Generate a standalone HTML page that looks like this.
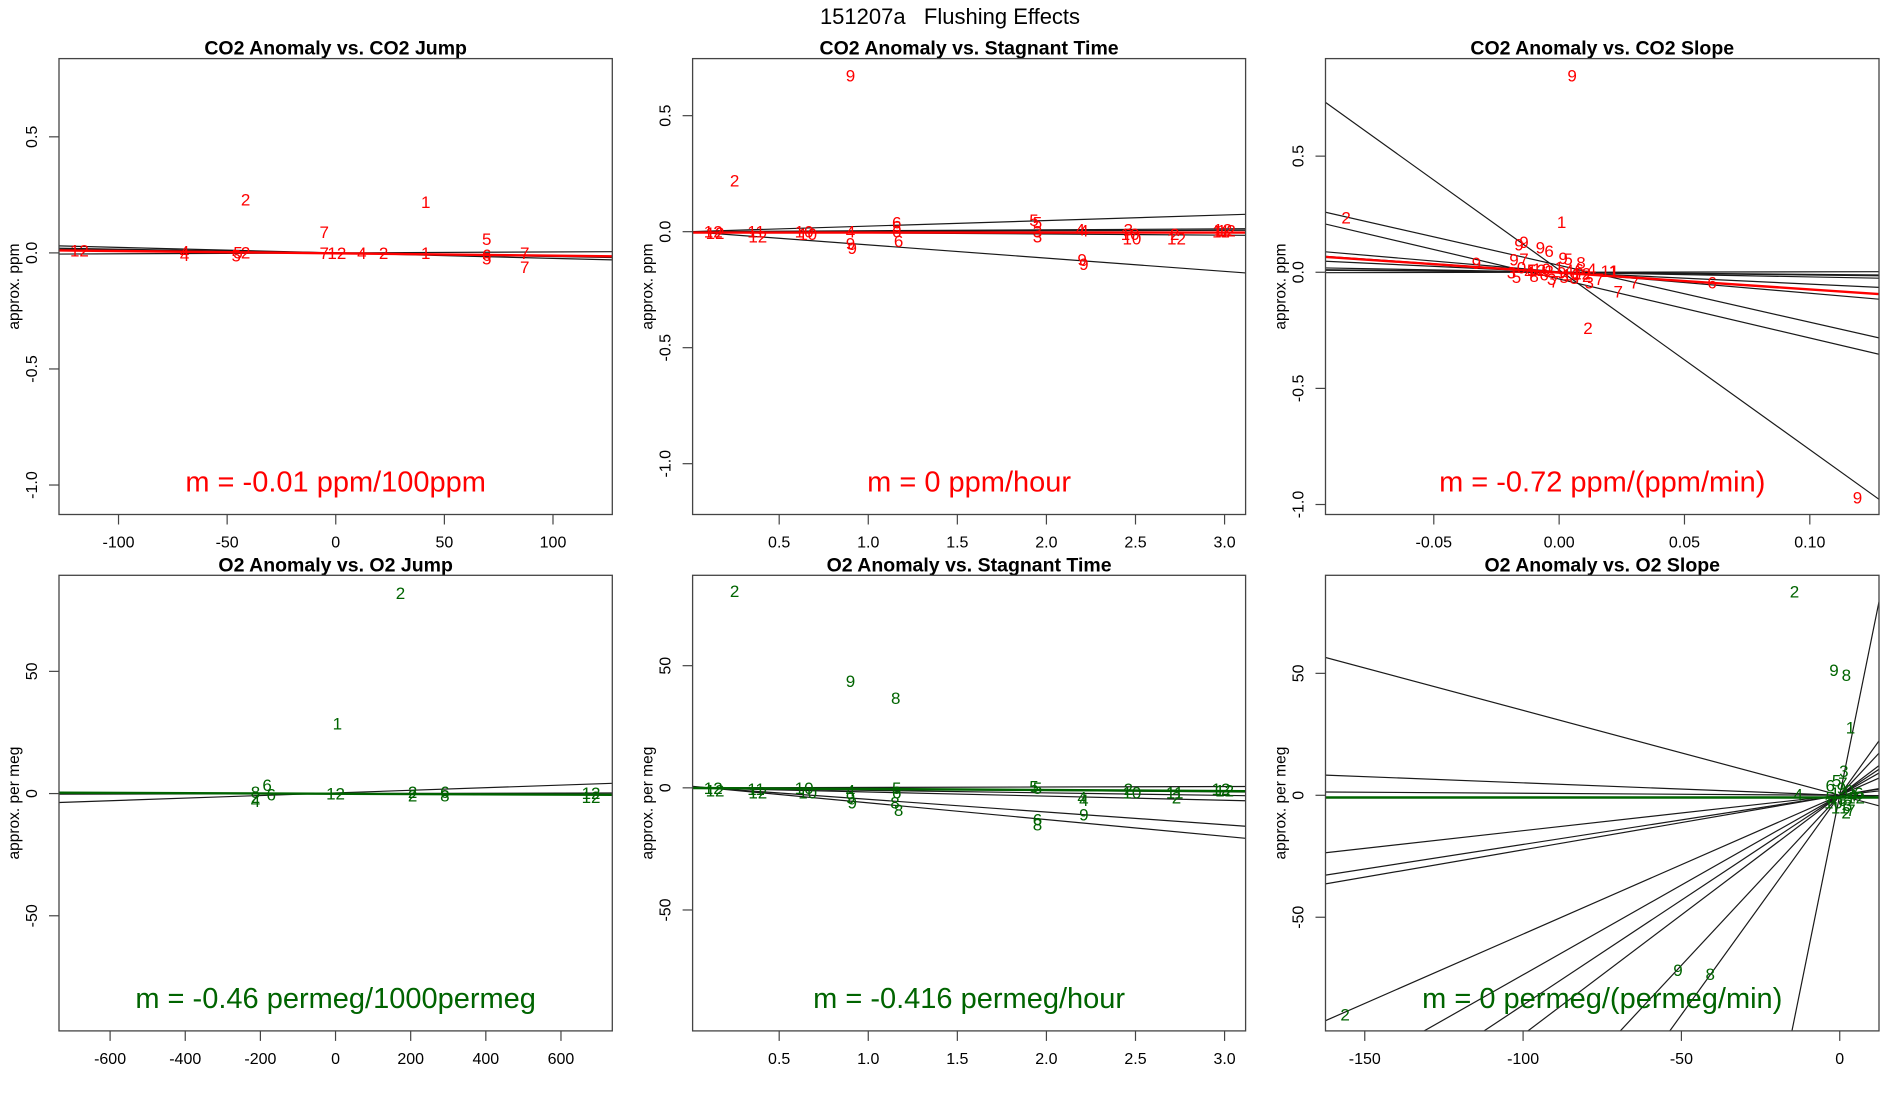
<!DOCTYPE html>
<html><head><meta charset="utf-8"><title>151207a Flushing Effects</title>
<style>
html,body{margin:0;padding:0;background:#fff;overflow:hidden;width:1900px;height:1100px;}
svg{display:block;font-family:"Liberation Sans",Arial,sans-serif;}
</style></head>
<body>
<svg id="fig" width="1900" height="1100" viewBox="0 0 1900 1100">
<text x="950" y="24" font-size="22" text-anchor="middle" style="white-space:pre" xml:space="preserve">151207a   Flushing Effects</text>
</svg>
<script>
// ---------- Panel 1: CO2 Anomaly vs CO2 Jump ----------
const p1Labels = ["12","4","4","5","2","5","2","7","7","12","4","2","1","1","5","6","5","7","7"];
const p1X = [-118,-69.6,-69.6,-45,-41.5,-45.8,-41.5,-5.3,-5.3,0.5,12,22,41.4,41.4,69.5,69.5,69.5,87,87];
const p1Y = [0.01,0.005,-0.01,0.002,0.002,-0.012,0.23,0.09,0,0,0,0,0.22,0,0.06,-0.01,-0.025,0,-0.06];
const p1LineSlope = [-0.000236,-0.000157,0.00004,-0.000118];
const p1LineInt = [0,0,0,0];
const p1FitSlope = -0.0001;
const p1FitInt = -0.002;
const p1XTicks = [-100,-50,0,50,100];
const p1XTickLabels = ["-100","-50","0","50","100"];
const p1YTicks = [0.5,0,-0.5,-1.0];
const p1YTickLabels = ["0.5","0.0","-0.5","-1.0"];

// ---------- Panel 2: CO2 Anomaly vs Stagnant Time ----------
const p2Labels = ["9","2","12","12","11","12","10","10","4","9","9","6","5","6","6","5","5","3","3","4","4","9","9","3","10","10","2","12","11","12","12"];
const p2X = [0.90,0.25,0.13,0.14,0.37,0.38,0.64,0.66,0.90,0.90,0.91,1.16,1.16,1.16,1.17,1.93,1.95,1.95,1.95,2.19,2.21,2.2,2.21,2.46,2.47,2.48,2.72,2.73,2.98,2.99,3.01];
const p2Y = [0.673,0.22,0,-0.005,0,-0.02,0,-0.01,0,-0.05,-0.07,0.04,0.02,0.0,-0.04,0.05,0.04,0.0,-0.02,0.01,0.005,-0.12,-0.14,0.01,-0.01,-0.03,-0.01,-0.03,0.0,0.01,0.005];
const p2LineSlope = [0.024,-0.057,0.004,-0.005,0.002];
const p2LineInt = [0,0,0,0,0];
const p2FitSlope = 0;
const p2FitInt = -0.004;
const p2XTicks = [0.5,1.0,1.5,2.0,2.5,3.0];
const p2XTickLabels = ["0.5","1.0","1.5","2.0","2.5","3.0"];
const p2YTicks = [0.5,0,-0.5,-1.0];
const p2YTickLabels = ["0.5","0.0","-0.5","-1.0"];

// ---------- Panel 3: CO2 Anomaly vs CO2 Slope ----------
const p3Labels = ["9","2","1","9","9","9","6","9","5","8","9","9","7","2","9","6","7","7","11","1","3","5","0","4","8","12","10","6","2","3","7","1","9","5","4","10","8","6","12","2","3","7","4","1","5"];
const p3X = [0.0052,-0.085,0.001,-0.016,-0.014,-0.0075,-0.004,0.0016,0.0036,0.0087,-0.033,-0.018,-0.014,0.0115,0.119,0.061,0.030,0.0236,0.02,0.022,-0.019,-0.017,-0.015,-0.012,-0.010,-0.009,-0.007,-0.006,-0.004,-0.003,-0.002,0.0,0.001,0.002,0.004,0.005,0.006,0.008,0.009,0.011,0.012,0.016,0.013,0.007,-0.011];
const p3Y = [0.847,0.236,0.217,0.12,0.13,0.107,0.092,0.062,0.057,0.042,0.039,0.054,0.057,-0.24,-0.97,-0.044,-0.044,-0.082,0.006,0.006,0.0,-0.02,0.02,0.0,-0.015,0.01,0.015,-0.01,0.005,-0.03,-0.04,0.02,0.0,-0.02,0.01,-0.01,-0.025,0.012,-0.005,-0.015,-0.045,-0.03,0.015,-0.005,0.01];
const p3LineSlope = [-7.74,-2.45,-2.54,-0.924,-0.738,-0.51,-0.2,-0.12,0.02,-0.09];
const p3LineInt = [0.01,0.03,-0.029,0.002,0,0,0,0,0,0];
const p3FitSlope = -0.725;
const p3FitInt = -0.0015;
const p3XTicks = [-0.05,0,0.05,0.10];
const p3XTickLabels = ["-0.05","0.00","0.05","0.10"];
const p3YTicks = [0.5,0,-0.5,-1.0];
const p3YTickLabels = ["0.5","0.0","-0.5","-1.0"];

// ---------- Panel 4: O2 Anomaly vs O2 Jump ----------
const p4Labels = ["2","1","6","8","2","4","6","12","2","2","6","8","12","12"];
const p4X = [173,5,-182,-213,-213,-213,-171,0,205,205,291,291,680,680];
const p4Y = [82.1,28.6,3.5,0.6,-1.5,-3,-0.4,0,0.6,-0.8,0.6,-0.8,0.2,-1.5];
const p4LineSlope = [0.00534,0.0003];
const p4LineInt = [0.27,0];
const p4FitSlope = -0.00058;
const p4FitInt = -0.07;
const p4XTicks = [-600,-400,-200,0,200,400,600];
const p4XTickLabels = ["-600","-400","-200","0","200","400","600"];
const p4YTicks = [50,0,-50];
const p4YTickLabels = ["50","0","-50"];

// ---------- Panel 5: O2 Anomaly vs Stagnant Time ----------
const p5Labels = ["2","9","8","12","12","11","12","10","10","4","9","9","5","6","8","8","5","5","6","8","4","4","9","2","10","11","2","12","12"];
const p5X = [0.25,0.90,1.154,0.13,0.14,0.37,0.38,0.64,0.66,0.9,0.9,0.91,1.16,1.16,1.15,1.17,1.93,1.95,1.95,1.95,2.2,2.21,2.21,2.46,2.48,2.72,2.73,2.98,3.0];
const p5Y = [80.5,43.8,36.8,0,-1,-0.5,-2,0,-2,-1,-4,-6,0,-2,-6,-9,0.5,0,-13,-15,-4,-5,-11,-0.5,-2,-2,-4,-0.5,-1];
const p5LineSlope = [-6.85,-5.2,-1.7,-1.03,-0.55,0.17];
const p5LineInt = [0.7,0.5,0,0,0,0];
const p5FitSlope = -0.416;
const p5FitInt = -0.06;
const p5XTicks = [0.5,1.0,1.5,2.0,2.5,3.0];
const p5XTickLabels = ["0.5","1.0","1.5","2.0","2.5","3.0"];
const p5YTicks = [50,0,-50];
const p5YTickLabels = ["50","0","-50"];

// ---------- Panel 6: O2 Anomaly vs O2 Slope ----------
const p6Labels = ["2","9","8","1","3","4","2","9","8","6","5","7","0","12","10","11","2","4","6","8","5","9","3","1","7"];
const p6X = [-14.3,-1.8,2.1,3.4,1.3,-13.1,-156.2,-51.1,-40.9,-3,-1,1,3,5,-2,0,2,4,6,1,-3,0.5,2.5,-1.5,3.5];
const p6Y = [83.5,51.4,49.3,27.7,10,0.4,-89.9,-71.6,-73.3,4,6,5,2,-1,-3,-5,-7,0,1,-2,-1,3,-4,1,-6];
const p6LineSlope = [-0.348,-0.051,-0.0084,0.2015,0.2237,0.569,0.736,0.860,0.981,1.394,1.80,6.4,0.145];
const p6LineInt = [0,0,0,0,0,0,0,0,0,0,0,0,0];
const p6FitSlope = 0;
const p6FitInt = -0.9;
const p6XTicks = [-150,-100,-50,0];
const p6XTickLabels = ["-150","-100","-50","0"];
const p6YTicks = [50,0,-50];
const p6YTickLabels = ["50","0","-50"];

const NS = "http://www.w3.org/2000/svg";
const svg = document.getElementById("fig");
function mk(tag, attrs, parent){
  const e = document.createElementNS(NS, tag);
  for (const k in attrs) e.setAttribute(k, attrs[k]);
  (parent||svg).appendChild(e);
  return e;
}

const panels = [
  {id:"co2-jump", title:"CO2 Anomaly vs. CO2 Jump", ytitle:"approx. ppm", m:"m = -0.01 ppm/100ppm", col:"#ff0000",
   L:59,R:612.3,T:58.6,B:514.5, xlim:[-127.4,127.3], ylim:[-1.127,0.837],
   labels:p1Labels,xs:p1X,ys:p1Y,ls:p1LineSlope,li:p1LineInt,fs:p1FitSlope,fi:p1FitInt,xt:p1XTicks,xtl:p1XTickLabels,yt:p1YTicks,ytl:p1YTickLabels},
  {id:"co2-stagnant", title:"CO2 Anomaly vs. Stagnant Time", ytitle:"approx. ppm", m:"m = 0 ppm/hour", col:"#ff0000",
   L:692.6,R:1245.6,T:58.6,B:514.5, xlim:[0.014,3.118], ylim:[-1.219,0.746],
   labels:p2Labels,xs:p2X,ys:p2Y,ls:p2LineSlope,li:p2LineInt,fs:p2FitSlope,fi:p2FitInt,xt:p2XTicks,xtl:p2XTickLabels,yt:p2YTicks,ytl:p2YTickLabels},
  {id:"co2-slope", title:"CO2 Anomaly vs. CO2 Slope", ytitle:"approx. ppm", m:"m = -0.72 ppm/(ppm/min)", col:"#ff0000",
   L:1325.5,R:1879,T:58.6,B:514.5, xlim:[-0.0932,0.1276], ylim:[-1.043,0.92],
   labels:p3Labels,xs:p3X,ys:p3Y,ls:p3LineSlope,li:p3LineInt,fs:p3FitSlope,fi:p3FitInt,xt:p3XTicks,xtl:p3XTickLabels,yt:p3YTicks,ytl:p3YTickLabels},
  {id:"o2-jump", title:"O2 Anomaly vs. O2 Jump", ytitle:"approx. per meg", m:"m = -0.46 permeg/1000permeg", col:"#006400",
   L:59,R:612.3,T:575.3,B:1030.9, xlim:[-736,736.6], ylim:[-97.1,89.3],
   labels:p4Labels,xs:p4X,ys:p4Y,ls:p4LineSlope,li:p4LineInt,fs:p4FitSlope,fi:p4FitInt,xt:p4XTicks,xtl:p4XTickLabels,yt:p4YTicks,ytl:p4YTickLabels},
  {id:"o2-stagnant", title:"O2 Anomaly vs. Stagnant Time", ytitle:"approx. per meg", m:"m = -0.416 permeg/hour", col:"#006400",
   L:692.6,R:1245.6,T:575.3,B:1030.9, xlim:[0.014,3.118], ylim:[-99.5,87.0],
   labels:p5Labels,xs:p5X,ys:p5Y,ls:p5LineSlope,li:p5LineInt,fs:p5FitSlope,fi:p5FitInt,xt:p5XTicks,xtl:p5XTickLabels,yt:p5YTicks,ytl:p5YTickLabels},
  {id:"o2-slope", title:"O2 Anomaly vs. O2 Slope", ytitle:"approx. per meg", m:"m = 0 permeg/(permeg/min)", col:"#006400",
   L:1325.5,R:1879,T:575.3,B:1030.9, xlim:[-162.4,12.4], ylim:[-96.6,90.2],
   labels:p6Labels,xs:p6X,ys:p6Y,ls:p6LineSlope,li:p6LineInt,fs:p6FitSlope,fi:p6FitInt,xt:p6XTicks,xtl:p6XTickLabels,yt:p6YTicks,ytl:p6YTickLabels}
];

const defs = mk("defs",{});
panels.forEach(function(p){
  const sx = v => p.L + (v - p.xlim[0]) / (p.xlim[1]-p.xlim[0]) * (p.R - p.L);
  const sy = v => p.B - (v - p.ylim[0]) / (p.ylim[1]-p.ylim[0]) * (p.B - p.T);
  const g = mk("g",{});
  
  
  const cp = mk("clipPath",{id:"clip-"+p.id}, defs);
  mk("rect",{x:p.L,y:p.T,width:p.R-p.L,height:p.B-p.T}, cp);

  const t = mk("text",{x:(p.L+p.R)/2, y:p.T-4, "font-size":19.5, "font-weight":"bold", "text-anchor":"middle"}, g);
  t.textContent = p.title;
  
  

  const lg = mk("g",{"clip-path":"url(#clip-"+p.id+")"}, g);
  
  
  p.ls.forEach(function(s,i){
    const ln = mk("line",{x1:sx(p.xlim[0]), y1:sy(p.li[i]+s*p.xlim[0]), x2:sx(p.xlim[1]), y2:sy(p.li[i]+s*p.xlim[1]), stroke:"#1a1a1a", "stroke-width":1.2}, lg);
    
    
  });
  const fl = mk("line",{x1:sx(p.xlim[0]), y1:sy(p.fi+p.fs*p.xlim[0]), x2:sx(p.xlim[1]), y2:sy(p.fi+p.fs*p.xlim[1]), stroke:p.col, "stroke-width":2.4}, lg);
  
  

  const pg = mk("g",{"clip-path":"url(#clip-"+p.id+")", fill:p.col, "font-size":17, "text-anchor":"middle"}, g);
  
  
  p.labels.forEach(function(lab,i){
    const tx = mk("text",{x:sx(p.xs[i]), y:sy(p.ys[i])+6}, pg);
    tx.textContent = lab;
    
    
  });

  const mt = mk("text",{x:(p.L+p.R)/2, y:p.B-23, "font-size":29, fill:p.col, "text-anchor":"middle"}, g);
  mt.textContent = p.m;
  
  

  const bx = mk("rect",{x:p.L,y:p.T,width:p.R-p.L,height:p.B-p.T,fill:"none",stroke:"#444","stroke-width":1.3}, g);
  
  

  const xa = mk("g",{"font-size":16,"text-anchor":"middle"}, g);
  
  
  p.xt.forEach(function(v,i){
    const x = sx(v);
    mk("line",{x1:x,y1:p.B,x2:x,y2:p.B+10,stroke:"#444","stroke-width":1.2}, xa);
    const tl = mk("text",{x:x,y:p.B+33}, xa);
    tl.textContent = p.xtl[i];
    
    
  });
  const ya = mk("g",{"font-size":16,"text-anchor":"middle"}, g);
  
  
  p.yt.forEach(function(v,i){
    const y = sy(v);
    mk("line",{x1:p.L-10,y1:y,x2:p.L,y2:y,stroke:"#444","stroke-width":1.2}, ya);
    const tl = mk("text",{x:p.L-22,y:y,transform:"rotate(-90 "+(p.L-22)+" "+y+")"}, ya);
    tl.textContent = p.ytl[i];
    
    
  });
  const yc = (p.T+p.B)/2;
  const yt = mk("text",{x:p.L-40,y:yc,"font-size":15.5,"text-anchor":"middle",transform:"rotate(-90 "+(p.L-40)+" "+yc+")"}, g);
  yt.textContent = p.ytitle;
  
  
});
</script>
</body></html>
